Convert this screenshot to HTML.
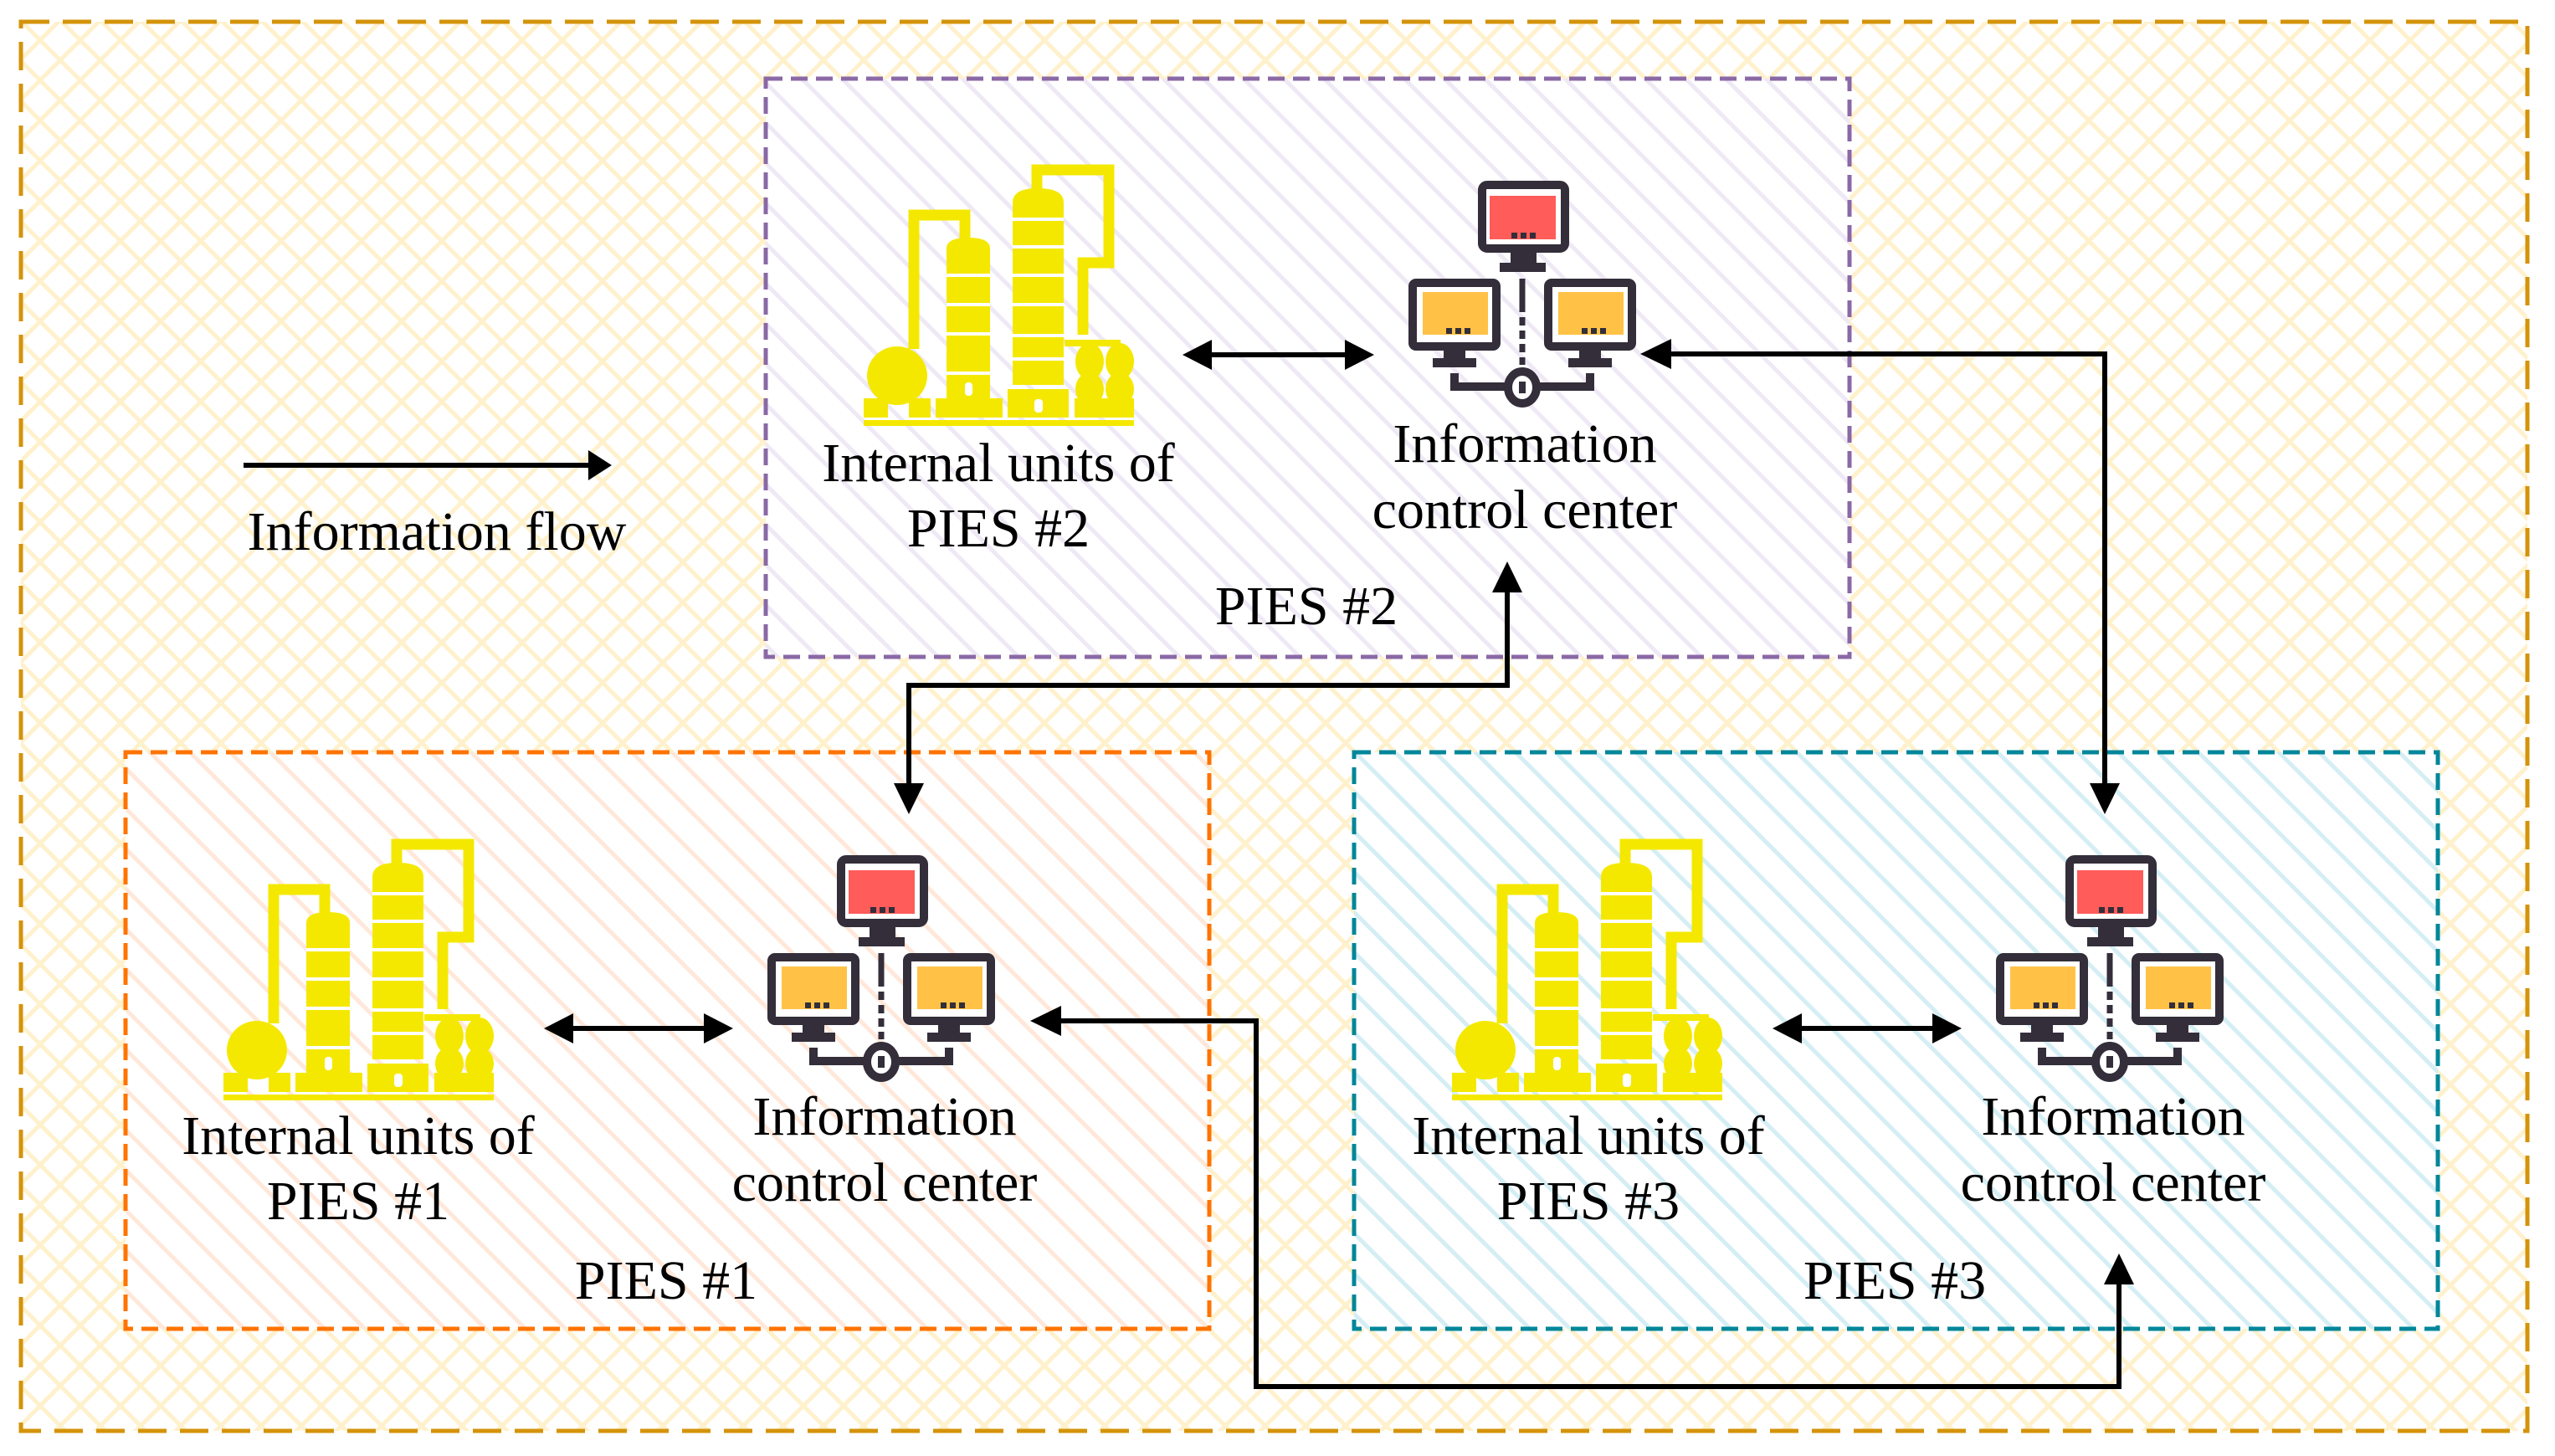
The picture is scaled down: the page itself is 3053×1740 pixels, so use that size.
<!DOCTYPE html>
<html><head><meta charset="utf-8"><style>html,body{margin:0;padding:0;background:#fff}svg{display:block}</style></head>
<body>
<svg width="3053" height="1740" viewBox="0 0 3053 1740" xmlns="http://www.w3.org/2000/svg">
<defs>
<pattern id="cross" width="48" height="48" patternUnits="userSpaceOnUse">
<rect width="48" height="48" fill="#fff"/>
<path d="M0,0 L48,48 M48,0 L0,48" stroke="#fff1cc" stroke-width="5"/>
</pattern>
<pattern id="sp" width="48" height="48" patternUnits="userSpaceOnUse"><rect width="48" height="48" fill="#fff"/><path d="M0,0 L48,48 M-12,36 L12,60 M36,-12 L60,12" stroke="#eee9f5" stroke-width="5"/></pattern>
<pattern id="so" width="48" height="48" patternUnits="userSpaceOnUse"><rect width="48" height="48" fill="#fff"/><path d="M0,0 L48,48 M-12,36 L12,60 M36,-12 L60,12" stroke="#ffe8da" stroke-width="5"/></pattern>
<pattern id="st" width="48" height="48" patternUnits="userSpaceOnUse"><rect width="48" height="48" fill="#fff"/><path d="M0,0 L48,48 M-12,36 L12,60 M36,-12 L60,12" stroke="#d4eef4" stroke-width="5"/></pattern>

<g id="factory" fill="#f5e800">
<rect x="0" y="305" width="323" height="7"/>
<rect x="0" y="279" width="29" height="23"/>
<rect x="54" y="279" width="26" height="23"/>
<rect x="86" y="279" width="80" height="23"/>
<rect x="172" y="268" width="73" height="34"/>
<rect x="252" y="279" width="71" height="23"/>
<ellipse cx="40" cy="252" rx="36" ry="35"/>
<path d="M99,100 Q99,87 125,87 Q151,87 151,100 V285 H99 Z"/>
<path d="M178,45 Q178,28 208,28 Q239,28 239,45 V263 H178 Z"/>
<path d="M121,90 V60 H60 V220" fill="none" stroke="#f5e800" stroke-width="13"/>
<path d="M207,30 V6 H293 V117 H262 V203" fill="none" stroke="#f5e800" stroke-width="13"/>
<path d="M240,213 H303 V230" fill="none" stroke="#f5e800" stroke-width="8"/>
<ellipse cx="270" cy="235" rx="17" ry="22"/>
<ellipse cx="270" cy="268" rx="17" ry="20"/>
<ellipse cx="306" cy="235" rx="17" ry="22"/>
<ellipse cx="306" cy="268" rx="17" ry="20"/>
<g fill="#fff">
<rect x="99" y="130" width="52" height="4"/><rect x="99" y="165" width="52" height="4"/><rect x="99" y="200" width="52" height="4"/><rect x="99" y="247" width="52" height="4"/>
<rect x="178" y="63" width="61" height="4"/><rect x="178" y="96" width="61" height="4"/><rect x="178" y="130" width="61" height="4"/><rect x="178" y="165" width="61" height="4"/><rect x="178" y="202" width="61" height="4"/><rect x="178" y="230" width="61" height="4"/>
<rect x="121" y="260" width="9" height="16" rx="4"/><rect x="204" y="280" width="10" height="16" rx="4"/>
</g>
</g>

<g id="comp">
<rect x="88" y="5" width="99" height="76" rx="6" fill="#fff" stroke="#332e3a" stroke-width="10"/>
<rect x="97" y="18" width="79" height="52" fill="#ff5c5a"/>
<rect x="122" y="86" width="31" height="12" fill="#332e3a"/><rect x="109" y="98" width="55" height="11" fill="#332e3a"/>
<rect x="5" y="122" width="100" height="76" rx="4" fill="#fff" stroke="#332e3a" stroke-width="10"/>
<rect x="17" y="133" width="78" height="51" fill="#ffc247"/>
<rect x="167" y="122" width="100" height="76" rx="4" fill="#fff" stroke="#332e3a" stroke-width="10"/>
<rect x="179" y="133" width="78" height="51" fill="#ffc247"/>
<g fill="#332e3a">
<rect x="123" y="62" width="7" height="7"/><rect x="134" y="62" width="7" height="7"/><rect x="145" y="62" width="7" height="7"/>
<rect x="45" y="176" width="7" height="7"/><rect x="56" y="176" width="7" height="7"/><rect x="67" y="176" width="7" height="7"/>
<rect x="207" y="176" width="7" height="7"/><rect x="218" y="176" width="7" height="7"/><rect x="229" y="176" width="7" height="7"/>
<rect x="42" y="201" width="26" height="12"/><rect x="29" y="212" width="52" height="11"/>
<rect x="204" y="201" width="26" height="12"/><rect x="191" y="212" width="52" height="11"/>
</g>
<path d="M136,117 V220" stroke="#332e3a" stroke-width="7" stroke-dasharray="40 6 10 6 10 6 10 6"/>
<path d="M55,230 V246 H217 V230" fill="none" stroke="#332e3a" stroke-width="10"/>
<ellipse cx="136" cy="247" rx="17" ry="19" fill="#fff" stroke="#332e3a" stroke-width="10"/>
<rect x="132" y="240" width="8" height="14" fill="#332e3a"/>
</g>
</defs>

<rect x="25" y="26" width="2995" height="1684" fill="url(#cross)" stroke="#d4930a" stroke-width="5" stroke-dasharray="34 16"/>
<rect x="915" y="94" width="1295" height="691" fill="url(#sp)" stroke="#8a69a6" stroke-width="5" stroke-dasharray="20 10"/>
<rect x="150" y="899" width="1295" height="689" fill="url(#so)" stroke="#ff7300" stroke-width="5" stroke-dasharray="20 10"/>
<rect x="1618" y="899" width="1295" height="689" fill="url(#st)" stroke="#00869a" stroke-width="5" stroke-dasharray="20 10"/>

<use href="#factory" x="1032" y="197"/>
<use href="#factory" x="267" y="1003"/>
<use href="#factory" x="1735" y="1003"/>
<use href="#comp" x="1683" y="216"/>
<use href="#comp" x="917" y="1022"/>
<use href="#comp" x="2385" y="1022"/>

<g stroke="#000" stroke-width="6" fill="none">
<path d="M291,556 H710"/>
<path d="M1440,424 H1615"/><path d="M677,1229 H849"/><path d="M2145,1229 H2317"/>
<path d="M1801,700 V819 H1086 V945"/>
<path d="M1988,423 H2515 V945"/>
<path d="M1260,1220 H1501 V1657 H2532 V1526"/>
</g>
<g fill="#000">
<path d="M731,556 L703,538 L703,574 Z"/>
<path d="M1413,424 L1448,406 L1448,442 Z"/><path d="M1642,424 L1607,406 L1607,442 Z"/>
<path d="M650,1229 L685,1211 L685,1247 Z"/><path d="M876,1229 L841,1211 L841,1247 Z"/>
<path d="M2118,1229 L2153,1211 L2153,1247 Z"/><path d="M2344,1229 L2309,1211 L2309,1247 Z"/>
<path d="M1801,671 L1783,708 L1819,708 Z"/>
<path d="M1086,973 L1068,936 L1104,936 Z"/>
<path d="M1960,423 L1997,405 L1997,441 Z"/>
<path d="M2515,973 L2497,936 L2533,936 Z"/>
<path d="M1231,1220 L1268,1202 L1268,1238 Z"/>
<path d="M2532,1498 L2514,1535 L2550,1535 Z"/>
</g>

<g font-family="'Liberation Serif', serif" font-size="66" fill="#000" text-anchor="middle">
<text x="522" y="657">Information flow</text>
<text x="1193" y="575">Internal units of</text><text x="1193" y="653">PIES #2</text>
<text x="1822" y="552">Information</text><text x="1822" y="631">control center</text>
<text x="1561" y="746">PIES #2</text>
<text x="428" y="1379">Internal units of</text><text x="428" y="1457">PIES #1</text>
<text x="1057" y="1356">Information</text><text x="1057" y="1435">control center</text>
<text x="796" y="1552">PIES #1</text>
<text x="1898" y="1379">Internal units of</text><text x="1898" y="1457">PIES #3</text>
<text x="2525" y="1356">Information</text><text x="2525" y="1435">control center</text>
<text x="2264" y="1552">PIES #3</text>
</g>
</svg>
</body></html>
